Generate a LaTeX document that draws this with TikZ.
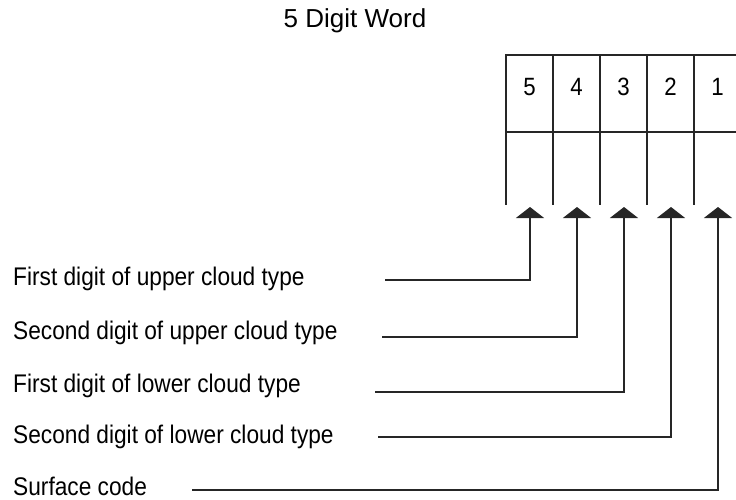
\documentclass[tikz,border=0pt]{standalone}
\usepackage{fontspec}
\setmainfont{Liberation Sans}
\newfontfamily\narrowfont{Liberation Sans}[FakeStretch=0.89]
\usetikzlibrary{arrows.meta}
\begin{document}
\begin{tikzpicture}[x=1pt,y=-1pt,
  ln/.style={draw=black!85,line width=1.4pt},
  lbl/.style={anchor=west,inner sep=0pt,font=\narrowfont\fontsize{25.5}{30}\selectfont},
  dig/.style={inner sep=0pt,font=\narrowfont\fontsize{25}{30}\selectfont},
  arr/.style={ln,-{Triangle[width=28pt,length=11pt]}}]
\useasboundingbox (0,0) rectangle (736,500);
% title
\node[inner sep=0pt,font=\fontsize{26}{30}\selectfont] (title) at (355,21) {5 Digit Word};
% box
\draw[ln] (736,55) -- (506,55) -- (506,205);
\draw[ln] (506,132) -- (736,132);
\foreach \x in {553,600,647,694} \draw[ln] (\x,55) -- (\x,205);
% digits
\node[dig] (d5) at (529.5,87) {5};
\node[dig] (d4) at (576.5,87) {4};
\node[dig] (d3) at (623.5,87) {3};
\node[dig] (d2) at (670.5,87) {2};
\node[dig] (d1) at (717.5,87) {1};
% arrow tips
\coordinate (t5) at (530,207);
\coordinate (t4) at (577,207);
\coordinate (t3) at (624,207);
\coordinate (t2) at (671,207);
\coordinate (t1) at (718,207);
% labels
\node[lbl] (L5) at (13,279) {First digit of upper cloud type};
\node[lbl] (L4) at (13,333) {Second digit of upper cloud type};
\node[lbl] (L3) at (13,386) {First digit of lower cloud type};
\node[lbl] (L2) at (13,437) {Second digit of lower cloud type};
\node[lbl] (L1) at (13,486) {Surface code};
% line starts
\coordinate (s5) at (385,280);
\coordinate (s4) at (382,337);
\coordinate (s3) at (375,392);
\coordinate (s2) at (378,437);
\coordinate (s1) at (192,490);
% connectors
\draw[arr] (s5) -| (t5);
\draw[arr] (s4) -| (t4);
\draw[arr] (s3) -| (t3);
\draw[arr] (s2) -| (t2);
\draw[arr] (s1) -| (t1);
\end{tikzpicture}
\end{document}
